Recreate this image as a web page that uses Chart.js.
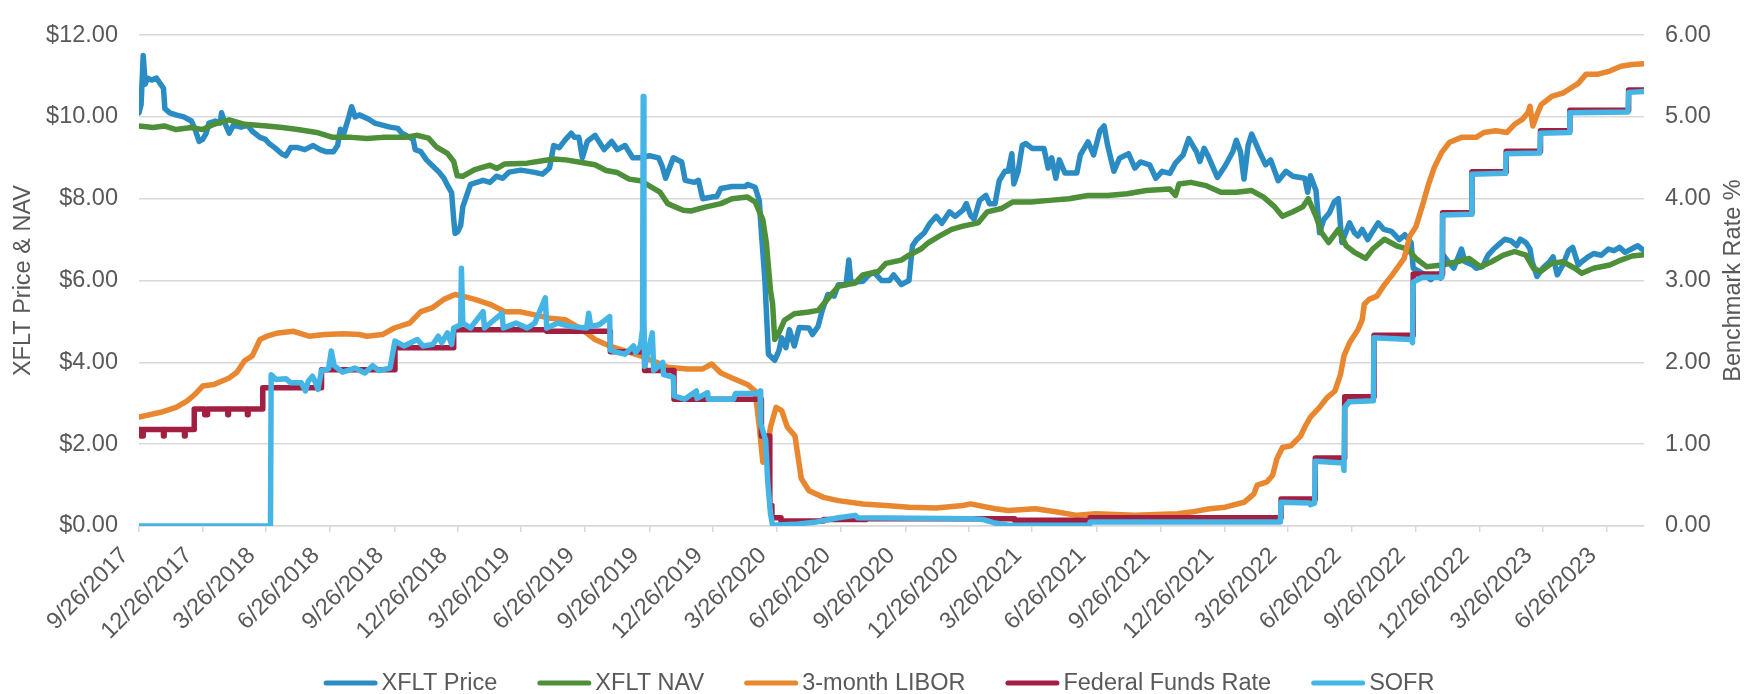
<!DOCTYPE html>
<html><head><meta charset="utf-8">
<script src="https://cdn.jsdelivr.net/npm/chart.js@4.4.0/dist/chart.umd.min.js"></script>
<style>html,body{margin:0;padding:0;background:#fff;overflow:hidden}</style>
</head><body>
<canvas id="c" width="1758" height="694" style="width:1758px;height:694px;display:block"></canvas>
<script>
const tickLabels = ['9/26/2017','12/26/2017','3/26/2018','6/26/2018','9/26/2018','12/26/2018','3/26/2019','6/26/2019','9/26/2019','12/26/2019','3/26/2020','6/26/2020','9/26/2020','12/26/2020','3/26/2021','6/26/2021','9/26/2021','12/26/2021','3/26/2022','6/26/2022','9/26/2022','12/26/2022','3/26/2023','6/26/2023'];
const leftTitle = 'XFLT Price & NAV';
const rightTitle = 'Benchmark Rate %';
const seriesNames = ['XFLT Price','XFLT NAV','3-month LIBOR','Federal Funds Rate','SOFR'];

const xfltPrice = [
['2017-09-26',10.10],['2017-09-29',10.30],['2017-10-02',11.50],['2017-10-05',10.80],['2017-10-08',10.95],['2017-10-14',10.90],['2017-10-21',10.95],['2017-10-27',10.80],['2017-10-31',10.70],['2017-11-02',10.20],['2017-11-09',10.10],['2017-11-18',10.05],['2017-11-29',10.00],['2017-12-10',9.90],['2017-12-15',9.70],['2017-12-21',9.40],['2017-12-26',9.45],['2017-12-31',9.60],
['2018-01-04',9.85],['2018-01-13',9.90],['2018-01-20',9.85],['2018-01-22',10.10],['2018-01-28',9.80],['2018-02-02',9.60],['2018-02-08',9.80],['2018-02-19',9.75],['2018-02-28',9.80],['2018-03-07',9.65],['2018-03-18',9.50],['2018-03-26',9.45],['2018-03-31',9.35],['2018-04-08',9.25],['2018-04-18',9.10],['2018-04-24',9.05],['2018-05-01',9.25],['2018-05-11',9.25],['2018-05-21',9.20],['2018-06-02',9.30],['2018-06-12',9.20],['2018-06-20',9.15],['2018-07-01',9.15],['2018-07-07',9.30],['2018-07-11',9.70],['2018-07-16',9.60],['2018-07-23',10.00],['2018-07-27',10.25],['2018-08-01',10.00],['2018-08-07',10.05],['2018-08-20',9.95],['2018-08-29',9.85],['2018-09-09',9.80],['2018-09-20',9.75],['2018-10-01',9.72],['2018-10-07',9.60],['2018-10-18',9.50],['2018-10-23',9.45],['2018-10-26',9.20],['2018-11-03',9.15],['2018-11-11',8.95],['2018-11-20',8.80],['2018-11-29',8.65],['2018-12-06',8.50],['2018-12-12',8.30],['2018-12-17',8.15],['2018-12-20',7.50],['2018-12-22',7.15],['2018-12-26',7.20],['2018-12-30',7.35],
['2019-01-02',7.80],['2019-01-07',8.05],['2019-01-13',8.35],['2019-01-22',8.40],['2019-01-31',8.45],['2019-02-10',8.40],['2019-02-19',8.55],['2019-02-28',8.50],['2019-03-09',8.65],['2019-03-26',8.70],['2019-04-13',8.65],['2019-04-26',8.60],['2019-05-06',8.75],['2019-05-12',9.30],['2019-05-20',9.25],['2019-05-29',9.45],['2019-06-06',9.60],['2019-06-11',9.50],['2019-06-17',9.50],['2019-06-22',9.00],['2019-06-29',9.40],['2019-07-10',9.55],['2019-07-23',9.20],['2019-08-03',9.40],['2019-08-11',9.20],['2019-08-22',9.30],['2019-09-02',9.00],['2019-09-13',9.00],['2019-09-26',9.05],['2019-10-09',9.00],['2019-10-14',8.80],['2019-10-19',8.50],['2019-10-30',9.00],['2019-11-11',8.90],['2019-11-16',8.45],['2019-11-29',8.40],['2019-12-05',8.45],['2019-12-11',8.00],['2019-12-26',8.05],['2019-12-31',8.05],
['2020-01-06',8.25],['2020-01-22',8.30],['2020-02-10',8.30],['2020-02-13',8.35],['2020-02-24',8.28],['2020-03-01',7.95],['2020-03-03',7.40],['2020-03-09',6.00],['2020-03-14',4.20],['2020-03-23',4.05],['2020-03-29',4.28],['2020-04-02',4.60],['2020-04-08',4.36],['2020-04-13',4.80],['2020-04-20',4.40],['2020-04-27',4.85],['2020-05-11',4.84],['2020-05-16',4.68],['2020-05-24',4.88],['2020-05-30',5.27],['2020-06-07',5.66],['2020-06-16',5.62],['2020-06-22',5.90],['2020-07-03',5.90],['2020-07-07',6.50],['2020-07-10',5.95],['2020-07-27',5.98],['2020-08-05',6.14],['2020-08-12',6.20],['2020-08-23',6.00],['2020-09-03',6.00],['2020-09-09',6.14],['2020-09-20',5.90],['2020-10-01',6.00],['2020-10-06',6.85],['2020-10-12',7.00],['2020-10-23',7.17],['2020-10-31',7.40],['2020-11-09',7.57],['2020-11-17',7.40],['2020-11-28',7.68],['2020-12-06',7.57],['2020-12-17',7.72],['2020-12-22',7.88],['2020-12-28',7.60],
['2021-01-02',7.50],['2021-01-10',7.96],['2021-01-19',8.08],['2021-01-24',7.88],['2021-02-01',7.88],['2021-02-07',8.44],['2021-02-15',8.67],['2021-02-20',8.67],['2021-02-25',9.10],['2021-02-28',8.36],['2021-03-06',8.67],['2021-03-12',9.31],['2021-03-17',9.35],['2021-03-26',9.23],['2021-04-12',9.23],['2021-04-18',8.75],['2021-04-23',9.00],['2021-04-29',8.50],['2021-05-04',8.95],['2021-05-12',8.63],['2021-05-29',8.63],['2021-06-03',9.07],['2021-06-14',9.39],['2021-06-22',9.07],['2021-07-01',9.66],['2021-07-07',9.78],['2021-07-12',9.31],['2021-07-21',8.67],['2021-07-29',8.99],['2021-08-11',9.10],['2021-08-20',8.75],['2021-08-28',8.90],['2021-09-10',8.83],['2021-09-19',8.50],['2021-09-28',8.67],['2021-10-09',8.62],['2021-10-17',8.87],['2021-10-28',9.07],['2021-11-05',9.47],['2021-11-16',9.15],['2021-11-21',8.91],['2021-11-27',9.23],['2021-12-02',9.07],['2021-12-16',8.52],['2021-12-27',8.80],
['2022-01-07',9.15],['2022-01-12',9.43],['2022-01-18',9.15],['2022-01-23',8.48],['2022-01-29',9.31],['2022-02-03',9.58],['2022-02-14',9.15],['2022-02-23',8.83],['2022-03-02',8.95],['2022-03-13',8.44],['2022-03-24',8.67],['2022-04-03',8.55],['2022-04-20',8.50],['2022-04-24',8.16],['2022-04-28',8.56],['2022-05-06',8.20],['2022-05-11',7.17],['2022-05-17',7.49],['2022-05-25',7.65],['2022-06-01',7.92],['2022-06-07',8.00],['2022-06-12',6.93],['2022-06-23',7.41],['2022-06-30',7.17],['2022-07-05',7.09],['2022-07-11',7.25],['2022-07-19',7.00],['2022-07-26',7.20],['2022-08-03',7.41],['2022-08-11',7.25],['2022-08-22',7.20],['2022-09-02',7.00],['2022-09-10',7.12],['2022-09-19',6.93],['2022-09-22',6.30],['2022-10-01',6.22],['2022-10-09',6.14],['2022-10-17',6.02],['2022-10-25',6.14],['2022-10-31',6.06],['2022-11-05',6.60],['2022-11-11',6.46],['2022-11-19',6.30],['2022-11-30',6.77],['2022-12-05',6.46],['2022-12-16',6.38],['2022-12-21',6.30],['2022-12-30',6.34],
['2023-01-07',6.62],['2023-01-15',6.77],['2023-01-23',6.89],['2023-01-31',7.01],['2023-02-09',6.97],['2023-02-17',6.85],['2023-02-22',7.01],['2023-03-02',6.93],['2023-03-08',6.77],['2023-03-11',6.46],['2023-03-18',6.10],['2023-03-26',6.30],['2023-04-05',6.46],['2023-04-10',6.58],['2023-04-16',6.14],['2023-04-24',6.38],['2023-05-02',6.73],['2023-05-08',6.81],['2023-05-16',6.38],['2023-05-21',6.46],['2023-05-30',6.58],['2023-06-07',6.66],['2023-06-18',6.62],['2023-06-28',6.77],['2023-07-06',6.73],['2023-07-14',6.81],['2023-07-22',6.69],['2023-07-31',6.77],['2023-08-09',6.85],['2023-08-18',6.73]
];

const xfltNav = [
['2017-09-26',9.78],['2017-10-16',9.74],['2017-11-01',9.78],['2017-11-18',9.69],['2017-12-10',9.74],['2017-12-26',9.69],['2018-01-11',9.82],['2018-02-02',9.93],['2018-02-24',9.82],['2018-03-28',9.78],['2018-04-19',9.74],['2018-05-11',9.69],['2018-06-07',9.62],['2018-06-30',9.50],['2018-07-27',9.50],['2018-08-18',9.47],['2018-09-09',9.50],['2018-10-12',9.50],['2018-10-29',9.55],['2018-11-14',9.48],['2018-11-25',9.27],['2018-12-11',9.11],['2018-12-20',8.91],['2018-12-25',8.56],
['2019-01-02',8.55],['2019-01-19',8.71],['2019-02-10',8.82],['2019-02-20',8.74],['2019-03-03',8.85],['2019-04-04',8.87],['2019-04-26',8.93],['2019-05-12',8.97],['2019-05-29',8.95],['2019-06-19',8.89],['2019-07-10',8.83],['2019-07-26',8.69],['2019-08-11',8.64],['2019-08-28',8.48],['2019-09-13',8.44],['2019-09-25',8.32],['2019-10-11',8.16],['2019-10-22',7.88],['2019-11-13',7.72],['2019-11-24',7.70],['2019-12-16',7.80],
['2020-01-06',7.88],['2020-01-22',8.00],['2020-02-13',8.04],['2020-02-24',7.92],['2020-03-06',7.49],['2020-03-11',6.93],['2020-03-17',5.75],['2020-03-20',5.43],['2020-03-23',4.56],['2020-03-29',4.72],['2020-04-06',5.03],['2020-04-20',5.19],['2020-05-11',5.23],['2020-05-24',5.27],['2020-06-01',5.43],['2020-06-12',5.66],['2020-06-22',5.86],['2020-07-16',5.94],['2020-07-27',6.14],['2020-08-18',6.22],['2020-08-29',6.42],['2020-09-20',6.50],['2020-10-01',6.62],['2020-10-18',6.77],['2020-10-29',6.93],['2020-11-14',7.09],['2020-12-01',7.25],['2020-12-17',7.33],
['2021-01-08',7.41],['2021-01-21',7.68],['2021-02-10',7.76],['2021-02-26',7.92],['2021-03-24',7.92],['2021-04-20',7.96],['2021-05-18',8.00],['2021-06-14',8.08],['2021-07-12',8.08],['2021-08-09',8.12],['2021-09-05',8.20],['2021-10-09',8.24],['2021-10-17',8.08],['2021-10-22',8.36],['2021-11-08',8.40],['2021-11-30',8.32],['2021-12-21',8.16],
['2022-01-12',8.16],['2022-02-03',8.20],['2022-02-20',8.04],['2022-03-08',7.80],['2022-03-19',7.57],['2022-04-03',7.68],['2022-04-17',7.80],['2022-04-25',8.00],['2022-05-06',7.57],['2022-05-14',7.17],['2022-05-24',6.93],['2022-06-07',7.25],['2022-06-18',6.85],['2022-06-30',6.69],['2022-07-16',6.54],['2022-07-26',6.77],['2022-08-12',7.01],['2022-08-29',6.85],['2022-09-14',6.77],['2022-09-26',6.54],['2022-10-11',6.34],['2022-11-02',6.38],['2022-11-24',6.46],['2022-12-11',6.54],['2022-12-27',6.34],
['2023-01-12',6.46],['2023-01-29',6.62],['2023-02-14',6.71],['2023-03-02',6.62],['2023-03-13',6.30],['2023-03-23',6.22],['2023-04-08',6.42],['2023-04-24',6.46],['2023-05-11',6.30],['2023-05-21',6.18],['2023-06-07',6.30],['2023-06-30',6.38],['2023-07-16',6.50],['2023-08-01',6.60],['2023-08-18',6.63]
];

const libor3m = [
['2017-09-26',1.33],['2017-10-27',1.39],['2017-11-18',1.45],['2017-12-04',1.53],['2017-12-15',1.61],['2017-12-26',1.71],['2018-01-11',1.73],['2018-02-02',1.81],['2018-02-13',1.88],['2018-02-24',2.02],['2018-03-07',2.08],['2018-03-18',2.28],['2018-03-28',2.32],['2018-04-13',2.36],['2018-05-05',2.38],['2018-05-27',2.32],['2018-06-18',2.34],['2018-07-16',2.35],['2018-08-07',2.34],['2018-08-18',2.32],['2018-09-09',2.34],['2018-09-26',2.42],['2018-10-18',2.48],['2018-11-03',2.62],['2018-11-20',2.67],['2018-12-06',2.77],['2018-12-22',2.83],
['2019-01-02',2.81],['2019-01-19',2.77],['2019-02-10',2.71],['2019-03-03',2.62],['2019-03-24',2.62],['2019-04-15',2.58],['2019-05-07',2.54],['2019-05-29',2.52],['2019-06-14',2.44],['2019-07-01',2.34],['2019-07-10',2.28],['2019-07-31',2.20],['2019-08-22',2.14],['2019-09-13',2.08],['2019-10-06',2.00],['2019-10-22',1.94],['2019-11-19',1.92],['2019-12-11',1.92],['2019-12-24',1.98],
['2020-01-06',1.87],['2020-01-22',1.81],['2020-02-13',1.73],['2020-02-24',1.65],['2020-03-01',1.21],['2020-03-06',0.78],['2020-03-11',0.86],['2020-03-17',1.21],['2020-03-25',1.45],['2020-04-02',1.41],['2020-04-10',1.21],['2020-04-21',1.10],['2020-04-30',0.58],['2020-05-11',0.43],['2020-06-01',0.35],['2020-06-22',0.31],['2020-07-27',0.27],['2020-08-29',0.25],['2020-10-01',0.23],['2020-11-09',0.22],['2020-12-17',0.25],['2020-12-28',0.27],
['2021-02-01',0.21],['2021-02-20',0.19],['2021-03-31',0.21],['2021-05-01',0.17],['2021-05-29',0.13],['2021-06-26',0.15],['2021-08-20',0.13],['2021-10-20',0.15],['2021-11-08',0.17],['2021-12-05',0.21],['2021-12-27',0.23],
['2022-01-23',0.29],['2022-02-06',0.39],['2022-02-11',0.50],['2022-02-25',0.54],['2022-03-05',0.62],['2022-03-11',0.82],['2022-03-19',0.96],['2022-03-31',0.98],['2022-04-14',1.10],['2022-04-20',1.21],['2022-04-28',1.33],['2022-05-11',1.45],['2022-05-22',1.57],['2022-06-02',1.65],['2022-06-10',1.85],['2022-06-15',2.08],['2022-06-23',2.24],['2022-07-05',2.40],['2022-07-11',2.52],['2022-07-14',2.71],['2022-07-21',2.77],['2022-08-01',2.81],['2022-08-12',2.95],['2022-08-23',3.07],['2022-09-09',3.27],['2022-09-17',3.54],['2022-09-26',3.66],['2022-10-06',3.94],['2022-10-14',4.18],['2022-10-22',4.38],['2022-11-02',4.57],['2022-11-13',4.69],['2022-11-30',4.75],['2022-12-21',4.75],
['2023-01-01',4.81],['2023-01-18',4.83],['2023-02-03',4.81],['2023-02-14',4.91],['2023-02-25',4.97],['2023-03-05',5.05],['2023-03-08',5.13],['2023-03-12',4.89],['2023-03-19',5.05],['2023-03-24',5.15],['2023-04-08',5.25],['2023-04-24',5.29],['2023-05-05',5.35],['2023-05-16',5.41],['2023-05-27',5.52],['2023-06-12',5.52],['2023-06-30',5.56],['2023-07-16',5.62],['2023-08-01',5.64],['2023-08-18',5.65]
];

const fedFunds = [
['2017-09-26',1.18],['2017-09-29',1.10],['2017-10-02',1.18],['2017-10-31',1.10],['2017-11-01',1.18],['2017-11-30',1.10],['2017-12-01',1.18],['2017-12-14',1.43],['2017-12-29',1.36],['2018-01-02',1.43],['2018-01-31',1.36],['2018-02-01',1.43],['2018-02-28',1.36],['2018-03-01',1.43],['2018-03-22',1.69],['2018-06-14',1.91],['2018-09-27',2.18],['2018-12-20',2.40],['2019-05-02',2.38],['2019-08-01',2.13],['2019-09-19',1.90],['2019-10-31',1.55],['2020-03-04',1.10],['2020-03-16',0.25],['2020-03-19',0.10],['2020-04-01',0.06],['2020-06-01',0.08],['2020-08-01',0.09],['2021-03-01',0.07],['2021-06-17',0.10],['2022-03-17',0.33],['2022-05-05',0.83],['2022-06-16',1.58],['2022-07-28',2.33],['2022-09-22',3.08],['2022-11-03',3.83],['2022-12-15',4.33],['2023-02-02',4.58],['2023-03-23',4.83],['2023-05-04',5.08],['2023-07-27',5.33],['2023-08-18',5.33]
];

const sofr = [
['2017-09-26',0],['2018-04-02',0],['2018-04-03',1.85],['2018-04-10',1.79],['2018-04-24',1.80],['2018-05-01',1.75],['2018-05-16',1.75],['2018-05-22',1.65],['2018-05-26',1.77],['2018-06-01',1.83],['2018-06-05',1.76],['2018-06-09',1.67],['2018-06-14',1.90],['2018-06-24',1.92],['2018-06-28',2.14],['2018-07-02',1.96],['2018-07-14',1.88],['2018-08-01',1.93],['2018-08-15',1.87],['2018-08-26',1.96],['2018-09-04',1.90],['2018-09-20',1.93],['2018-09-27',2.26],['2018-10-10',2.20],['2018-10-29',2.28],['2018-11-06',2.20],['2018-11-20',2.22],['2018-11-28',2.32],['2018-12-03',2.24],['2018-12-11',2.36],['2018-12-17',2.22],['2018-12-20',2.42],['2018-12-30',2.46],['2018-12-31',3.15],
['2019-01-02',2.48],['2019-01-13',2.42],['2019-01-31',2.62],['2019-02-02',2.42],['2019-02-27',2.60],['2019-03-01',2.42],['2019-03-19',2.48],['2019-04-04',2.42],['2019-04-15',2.48],['2019-04-30',2.79],['2019-05-02',2.42],['2019-05-18',2.48],['2019-06-04',2.44],['2019-06-28',2.42],['2019-07-01',2.60],['2019-07-04',2.44],['2019-07-16',2.46],['2019-07-31',2.56],['2019-08-01',2.15],['2019-08-12',2.12],['2019-08-22',2.10],['2019-09-03',2.20],['2019-09-06',2.12],['2019-09-13',2.20],['2019-09-16',2.40],['2019-09-17',5.25],['2019-09-18',2.55],['2019-09-19',1.95],['2019-09-30',2.36],['2019-10-02',1.90],['2019-10-15',2.00],['2019-10-16',1.85],['2019-10-30',1.82],['2019-10-31',1.59],['2019-11-15',1.55],['2019-12-02',1.65],['2019-12-03',1.56],['2019-12-18',1.63],['2019-12-19',1.55],
['2020-01-24',1.55],['2020-01-27',1.62],['2020-02-27',1.62],['2020-03-02',1.65],['2020-03-03',1.25],['2020-03-10',1.05],['2020-03-13',0.54],['2020-03-17',0.15],['2020-03-20',0.01],['2020-04-20',0.02],['2020-05-22',0.05],['2020-06-22',0.10],['2020-07-16',0.13],['2020-07-20',0.10],['2020-12-31',0.09],['2021-01-14',0.08],['2021-01-30',0.04],['2021-02-20',0.01],['2021-06-16',0.01],['2021-06-17',0.05],['2021-12-31',0.05],
['2022-03-16',0.05],['2022-03-17',0.29],['2022-04-27',0.28],['2022-04-28',0.26],['2022-05-04',0.28],['2022-05-05',0.79],['2022-06-14',0.77],['2022-06-15',0.68],['2022-06-16',1.45],['2022-06-23',1.52],['2022-07-27',1.53],['2022-07-28',2.30],['2022-09-19',2.28],['2022-09-21',2.24],['2022-09-22',2.98],['2022-10-05',3.04],['2022-11-02',3.04],['2022-11-03',3.80],['2022-12-14',3.81],['2022-12-15',4.30],
['2023-02-01',4.31],['2023-02-02',4.55],['2023-03-22',4.56],['2023-03-23',4.80],['2023-05-03',4.81],['2023-05-04',5.05],['2023-07-26',5.06],['2023-07-27',5.30],['2023-08-18',5.31]
];

const colors = ['#2B8CC4','#4E8F3A','#E8872F','#A31F42','#45B5E6'];
const FONT = "'Liberation Sans', Arial, Helvetica, sans-serif";
const FS = 23.5;
const TEXT = '#595959';
const GRID = '#D9D9D9';
const LW = 5.5;

const START = Date.UTC(2017, 8, 26);
function dayOf(s){ const [y,m,d] = s.split('-').map(Number); return (Date.UTC(y,m-1,d) - START)/86400000; }
function tickDay(l){ const [m,d,y] = l.split('/').map(Number); return (Date.UTC(y,m-1,d) - START)/86400000; }
function pts(arr){ return arr.map(([d,v]) => ({x: dayOf(d), y: v})); }
const allSeries = [xfltPrice, xfltNav, libor3m, fedFunds, sofr];
const xMax = Math.max(...allSeries.map(s => dayOf(s[s.length-1][0])));

Chart.defaults.font.family = FONT;
Chart.defaults.font.size = FS;
Chart.defaults.color = TEXT;

const overlay = {
  id: 'overlay',
  afterDraw(chart){
    const c = chart.ctx, ca = chart.chartArea;
    c.save();
    c.fillStyle = TEXT;
    c.font = FS + 'px ' + FONT;
    const y1 = chart.scales.y1;
    c.translate(y1.right - 24, (ca.top + ca.bottom)/2);
    c.rotate(-Math.PI/2);
    c.textAlign = 'center'; c.textBaseline = 'middle';
    c.fillText(rightTitle, 0, 0);
    c.restore();
    c.save();
    c.font = FS + 'px ' + FONT;
    const lineLen = 54, gap = 4, spacing = 40;
    const ds = chart.data.datasets;
    const widths = ds.map(d => c.measureText(d.label).width);
    let total = widths.reduce((a,b)=>a+b,0) + ds.length*(lineLen+gap) + spacing*(ds.length-1);
    let x = (chart.width - total)/2;
    const y = 683;
    ds.forEach((d,i) => {
      c.strokeStyle = d.borderColor; c.lineWidth = 5; c.lineCap = 'round';
      c.beginPath(); c.moveTo(x+2.5, y); c.lineTo(x+lineLen-2.5, y); c.stroke();
      c.fillStyle = TEXT; c.textAlign = 'left'; c.textBaseline = 'middle';
      c.fillText(d.label, x + lineLen + gap, y + 1);
      x += lineLen + gap + widths[i] + spacing;
    });
    c.restore();
  }
};

const mk = (i, data, axis, order, extra) => Object.assign({
  label: seriesNames[i], data: pts(data), borderColor: colors[i], backgroundColor: colors[i],
  yAxisID: axis, order: order, borderWidth: LW, pointRadius: 0, tension: 0, fill: false,
  borderCapStyle: 'round', borderJoinStyle: 'round'
}, extra || {});

new Chart(document.getElementById('c'), {
  type: 'line',
  data: { datasets: [
    mk(0, xfltPrice, 'y', 4),
    mk(1, xfltNav, 'y', 3),
    mk(2, libor3m, 'y1', 2),
    mk(3, fedFunds, 'y1', 1, {stepped: true}),
    mk(4, sofr, 'y1', 0)
  ]},
  options: {
    responsive: false, animation: false, devicePixelRatio: 1,
    layout: { padding: { top: 20, left: 0, right: 0, bottom: 0 } },
    plugins: { legend: { display: false }, tooltip: { enabled: false } },
    scales: {
      x: {
        type: 'linear', min: 0, max: xMax,
        afterBuildTicks(s){ s.ticks = tickLabels.map(l => ({ value: tickDay(l) })); },
        afterFit(s){ s.height = 168; },
        ticks: { autoSkip: false, minRotation: 45, maxRotation: 45, padding: 10, labelOffset: -14,
                 callback: (v, i) => tickLabels[i], color: TEXT, font: { size: FS } },
        grid: { drawOnChartArea: false, drawTicks: true, tickLength: 6, color: GRID, lineWidth: 1.5 },
        border: { display: true, color: GRID, width: 1.5 }
      },
      y: {
        position: 'left', min: 0, max: 12,
        afterFit(s){ s.width = 139; },
        ticks: { stepSize: 2, padding: 21, callback: v => '$' + Number(v).toFixed(2), color: TEXT, font: { size: FS } },
        grid: { color: GRID, lineWidth: 1.5, drawTicks: false },
        border: { display: false },
        title: { display: true, text: leftTitle, color: TEXT, font: { size: FS }, padding: { top: 9, bottom: 0 } }
      },
      y1: {
        position: 'right', min: 0, max: 6,
        afterFit(s){ s.width = 114; },
        ticks: { stepSize: 1, padding: 21, callback: v => Number(v).toFixed(2), color: TEXT, font: { size: FS } },
        grid: { drawOnChartArea: false, drawTicks: false },
        border: { display: false }
      }
    }
  },
  plugins: [overlay]
});
</script>
</body></html>
